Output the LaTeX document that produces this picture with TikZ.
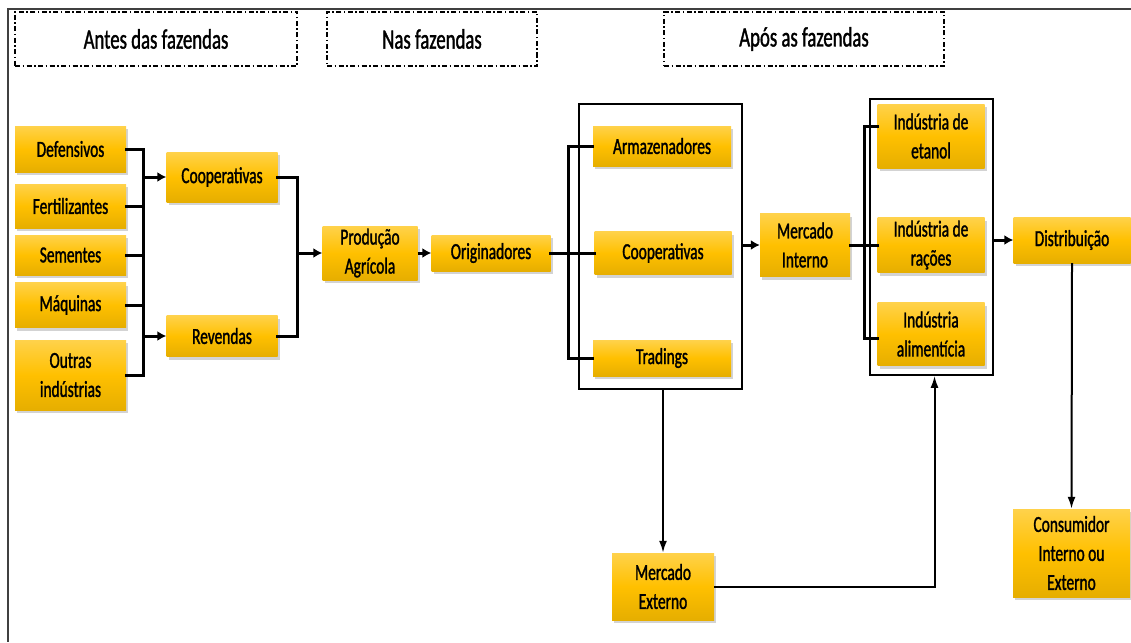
\documentclass[tikz,border=0pt]{standalone}
\usepackage{fontspec}
\setmainfont{Carlito}[FakeStretch=0.67]
\newfontfamily\heavyfont{Carlito}[FakeStretch=0.67, FakeBold=1.3]
\usepackage{tikz}
\usetikzlibrary{positioning,arrows.meta,shadows}
\definecolor{goldtop}{RGB}{255,210,75}
\definecolor{goldmid}{RGB}{255,192,0}
\definecolor{goldbot}{RGB}{230,174,0}
\tikzset{ybox/.style={rectangle, inner sep=0pt, top color=goldtop, bottom color=goldbot, middle color=goldmid, drop shadow={opacity=0.35, shadow xshift=2pt, shadow yshift=-3pt}, align=center, font=\heavyfont\fontsize{23}{29}\selectfont},
headbox/.style={draw, line width=1.1pt, dash pattern=on 5pt off 2.5pt on 1.5pt off 2.5pt, inner sep=0pt, font=\heavyfont\fontsize{28}{33}\selectfont},
groupbox/.style={draw, line width=1.6pt, inner sep=0pt},
conn/.style={line width=3pt, line cap=rect},
arr/.style={line width=3pt, -{Latex[length=9pt,width=10pt]}},
thinarr/.style={line width=2pt, -{Latex[length=12pt,width=8pt]}},
}

\begin{document}
\begin{tikzpicture}[x=1pt, y=-1pt]
\useasboundingbox (0,0) rectangle (1131,642);
\draw[line width=1.2pt, black!75] (1131,9) -- (8,9) -- (8,642);

\node[headbox, minimum width=282pt, minimum height=54pt] (antes) at (156,39) {Antes das fazendas};
\node[headbox, minimum width=210pt, minimum height=54pt] (nas) at (432,39) {Nas fazendas};
\node[headbox, minimum width=280pt, minimum height=54pt] (apos) at (804,39) {Após as fazendas};

\node[groupbox, minimum width=163pt, minimum height=285pt] (grp1) at (660.5,246.5) {};
\node[groupbox, minimum width=123pt, minimum height=276pt] (grp2) at (931.5,237) {};

\node[ybox, minimum width=111pt, minimum height=46pt] (def) at (70.5,149) {Defensivos};
\node[ybox, minimum width=111pt, minimum height=44pt] (fert) at (70.5,206) {Fertilizantes};
\node[ybox, minimum width=111pt, minimum height=40pt] (sem) at (70.5,255) {Sementes};
\node[ybox, minimum width=111pt, minimum height=45pt] (maq) at (70.5,305) {Máquinas};
\node[ybox, minimum width=111pt, minimum height=70pt] (outras) at (70.5,375) {Outras\\indústrias};
\node[ybox, minimum width=111pt, minimum height=50pt] (coop1) at (222,177) {Cooperativas};
\node[ybox, minimum width=111pt, minimum height=41pt] (rev) at (222,336) {Revendas};
\node[ybox, minimum width=95pt, minimum height=54pt] (prod) at (370,253) {Produção\\Agrícola};
\node[ybox, minimum width=119pt, minimum height=36pt] (orig) at (491,253) {Originadores};
\node[ybox, minimum width=138pt, minimum height=40pt] (arm) at (662,146) {Armazenadores};
\node[ybox, minimum width=137pt, minimum height=43pt] (coop2) at (663,253) {Cooperativas};
\node[ybox, minimum width=138pt, minimum height=36pt] (trad) at (662,358) {Tradings};
\node[ybox, minimum width=90pt, minimum height=63pt] (mi) at (805,245) {Mercado\\Interno};
\node[ybox, minimum width=107pt, minimum height=64pt] (etanol) at (931,136) {Indústria de\\etanol};
\node[ybox, minimum width=107pt, minimum height=55pt] (racoes) at (931,245) {Indústria de\\rações};
\node[ybox, minimum width=107pt, minimum height=63pt] (alim) at (931,334) {Indústria\\alimentícia};
\node[ybox, minimum width=117pt, minimum height=46pt] (dist) at (1072,240) {Distribuição};
\node[ybox, minimum width=117pt, minimum height=88pt] (cons) at (1071.5,553) {Consumidor\\Interno ou\\Externo};
\node[ybox, minimum width=102pt, minimum height=67pt] (mext) at (663,586.5) {Mercado\\Externo};

\coordinate (busa) at (143,149);
\coordinate (busb) at (143,375);
\draw[conn] (busa) -- (busb);
\foreach \n in {def,fert,sem,maq,outras}
  \draw[conn] (\n.east) -- (\n.east -| busa);
\draw[arr] (busa |- coop1.west) -- (coop1.west);
\draw[arr] (busa |- rev.west) -- (rev.west);

\coordinate (busc) at (297,253);
\draw[conn] (coop1.east) -| (busc) |- (rev.east);
\draw[arr] (busc) -- (prod.west);
\draw[arr] (prod.east) -- (orig.west);

\coordinate (busd) at (568,253);
\draw[conn] (orig.east) -- (coop2.west);
\draw[conn] (arm.west) -| (busd) |- (trad.west);
\draw[arr] (grp1.east |- mi.west) -- (mi.west);

\coordinate (buse) at (864,245);
\draw[conn] (mi.east) -- (racoes.west);
\draw[conn] ([yshift=10pt]etanol.west) -| (buse) |- ([yshift=-4pt]alim.west);
\draw[arr] (grp2.east |- dist.west) -- (dist.west);

\draw[thinarr] (dist.south) -- (cons.north);
\draw[thinarr] (grp1.south -| mext.north) -- (mext.north);
\draw[thinarr] (mext.east) -| ([xshift=3pt]grp2.south);
\end{tikzpicture}
\end{document}
